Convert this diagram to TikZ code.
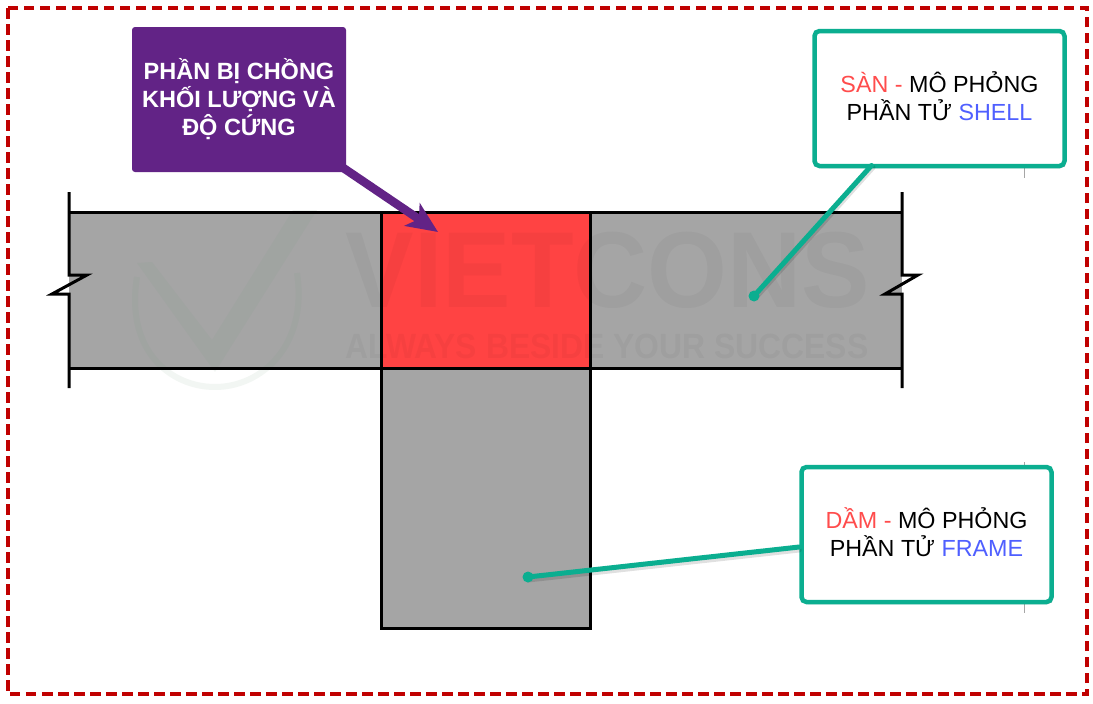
\documentclass[tikz,border=0pt]{standalone}
\usepackage{fontspec}
\setmainfont{Liberation Sans}
\usetikzlibrary{shadows,arrows.meta}
\definecolor{borderred}{HTML}{C00000}
\definecolor{concretegray}{HTML}{A5A5A5}
\definecolor{overlapred}{HTML}{FF4343}
\definecolor{notepurple}{HTML}{622386}
\definecolor{noteteal}{HTML}{0BAE90}
\definecolor{wordred}{HTML}{FF4C4C}
\definecolor{wordblue}{HTML}{4F5FFF}
\definecolor{markgreen}{HTML}{6F9F7F}

\begin{document}
\begin{tikzpicture}[x=1pt, y=-1pt,
    part/.style={rectangle, inner sep=0pt, outer sep=0pt},
    edge/.style={line width=3pt, black, line join=miter},
    softshadow/.style={drop shadow={shadow xshift=1.5pt, shadow yshift=-2pt, opacity=.3, fill=black}},
    tealnote/.style={rectangle, draw=noteteal, fill=white, line width=4.5pt, rounded corners=5pt, align=center, minimum width=250pt, minimum height=135pt, inner sep=0pt, softshadow, font=\fontsize{23.3}{28}\selectfont, execute at end node=\rule[-4pt]{0pt}{4pt}},
    purplenote/.style={rectangle, fill=notepurple, rounded corners=3pt, align=center, text=white, minimum width=214pt, minimum height=145pt, inner sep=0pt, font=\fontsize{23.5}{28}\selectfont\bfseries, execute at end node=\rule[-5pt]{0pt}{5pt}},
    leader/.style={line width=5pt, noteteal, line cap=round},
    leadershadow/.style={line width=5pt, black, opacity=.12, line cap=round},
    watermark/.style={inner sep=0pt, text=black, text opacity=.035, font=\bfseries}]
    \useasboundingbox (0,0) rectangle (1093,704);
    \fill[white] (0,0) rectangle (1093,704);
    \draw[borderred, line width=3.2pt, dash pattern=on 10.5pt off 5.5pt] (8,8) rectangle (1087,694);

    \node [part, fill=concretegray, minimum width=833pt, minimum height=156pt] (slab) at (485.5,290) {};
    \node [part, fill=concretegray, minimum width=209pt, minimum height=260pt] (beam) at (485.5,498) {};
    \node [part, fill=overlapred, minimum width=209pt, minimum height=156pt] (overlap) at (485.5,290) {};

    % faint company mark
    \fill[markgreen, opacity=.09] (137,263) -- (152,262) -- (212,340) -- (293,210) -- (317,210) -- (215,372) -- cycle;
    \draw[markgreen, opacity=.09, line width=6pt] (137,277) .. controls (125,350) and (170,387) .. (215,387) .. controls (262,387) and (308,345) .. (297,273);
    \node [watermark, anchor=center] (markname) at (608,270) {\fontsize{108}{108}\selectfont\scalebox{.95}[1]{VIETCONS}};
    \node [watermark, anchor=center] (markline) at (607,346) {\fontsize{35}{35}\selectfont\scalebox{.91}[1]{ALWAYS BESIDE YOUR SUCCESS}};

    \draw[edge] (69,212) -- (902,212);
    \draw[edge] (69,368) -- (902,368);
    \draw[edge] (69,192) -- (69,275) -- (87,275) -- (52,294) -- (69,294) -- (69,388);
    \draw[edge] (902,192) -- (902,275) -- (918,275) -- (885,294) -- (902,294) -- (902,388);
    \draw[edge] (overlap.north west) -- (overlap.south west);
    \draw[edge] (overlap.north east) -- (overlap.south east);
    \draw[edge] (beam.north west) -- (beam.south west) -- (beam.south east) -- (beam.north east);

    \draw[gray!70, line width=.7pt] (1024,160) -- (1024,178);
    \draw[gray!70, line width=.7pt] (1024,462) -- (1024,613);

    \node [purplenote] (overlapnote) at (239,99.5) {PHẦN BỊ CHỒNG\\KHỐI LƯỢNG VÀ\\ĐỘ CỨNG};
    \coordinate (overlaptip) at (438,232);
    \draw[-{Stealth[length=31pt, width=27pt, inset=8pt]}, notepurple, line width=8.5pt] ([shift={(-4,-5)}]overlapnote.south east) -- (overlaptip);

    \node [tealnote] (slabnote) at (939.5,98.5) {\textcolor{wordred}{SÀN -} MÔ PHỎNG\\PHẦN TỬ \textcolor{wordblue}{SHELL}};
    \coordinate (slabend) at (754,296);
    \draw[leadershadow] ([shift={(-66.5,69)}]slabnote.center) -- ([shift={(1.5,2)}]slabend);
    \draw[leader] ([shift={(-68,67)}]slabnote.center) -- (slabend);
    \fill[noteteal] (slabend) circle (5.5pt);

    \node [tealnote] (beamnote) at (926.5,534.5) {\textcolor{wordred}{DẦM -} MÔ PHỎNG\\PHẦN TỬ \textcolor{wordblue}{FRAME}};
    \coordinate (beamend) at (528,577);
    \draw[leadershadow] ([shift={(0,3)}]beamnote.west |- 0,547) -- ([shift={(0,3)}]beamend);
    \draw[leader] (beamnote.west |- 0,547) -- (beamend);
    \fill[noteteal] (beamend) circle (5.5pt);
\end{tikzpicture}
\end{document}
